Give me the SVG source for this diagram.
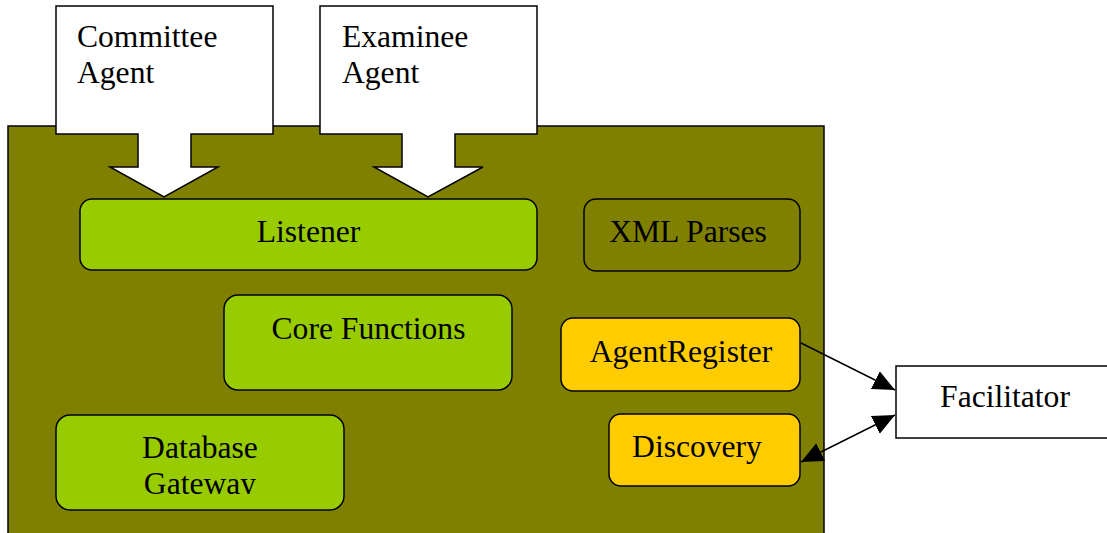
<svg xmlns="http://www.w3.org/2000/svg" width="1107" height="533" viewBox="0 0 1107 533">
<style>
text{font-family:"Liberation Serif","Times New Roman",serif;font-size:31.6px;fill:#000}
.box{stroke:#000;stroke-width:1.5}
.green{fill:#99CC00}
.gold{fill:#FFCC00}
.olive{fill:#808000}
.white{fill:#fff}
.conn{stroke:#000;stroke-width:1.5;fill:none}
</style>
<defs>
<marker id="ah" viewBox="0 0 20 20" refX="20" refY="10" markerWidth="22" markerHeight="22" markerUnits="userSpaceOnUse" orient="auto-start-reverse">
<path d="M0,1 L20,10 L0,19 Z" fill="#000"/>
</marker>
<clipPath id="dbclip"><rect x="56" y="415" width="290" height="79"/></clipPath>
</defs>
<rect width="1107" height="533" fill="#fff"/>
<g id="container">
<rect class="box olive" x="8" y="126" width="816" height="420"/>
</g>
<g id="committee">
<polygon class="box white" points="56,6 273,6 273,134 191,134 191,167 218,167 164,197 110,167 138,167 138,134 56,134"/>
<text x="77" y="47">Committee</text>
<text x="77" y="83">Agent</text>
</g>
<g id="examinee">
<polygon class="box white" points="320,6 537,6 537,134 455,134 455,167 483,167 428,197 374,167 402,167 402,134 320,134"/>
<text x="342" y="47">Examinee</text>
<text x="342" y="83">Agent</text>
</g>
<g id="listener">
<rect class="box green" x="80" y="199" width="457" height="71" rx="12"/>
<text x="308.5" y="242" text-anchor="middle">Listener</text>
</g>
<g id="xmlparses">
<rect class="box olive" x="584" y="199" width="216" height="72" rx="12"/>
<text x="688" y="242" text-anchor="middle">XML Parses</text>
</g>
<g id="corefunctions">
<rect class="box green" x="224" y="295" width="288" height="95" rx="14"/>
<text x="368.5" y="339" text-anchor="middle">Core Functions</text>
</g>
<g id="agentregister">
<rect class="box gold" x="561" y="318" width="239" height="73" rx="12"/>
<text x="681" y="362" text-anchor="middle">AgentRegister</text>
</g>
<g id="discovery">
<rect class="box gold" x="609" y="414" width="191" height="72" rx="12"/>
<text x="697" y="457" text-anchor="middle">Discovery</text>
</g>
<g id="databasegateway">
<rect class="box green" x="56" y="415" width="288" height="95" rx="14"/>
<g clip-path="url(#dbclip)">
<text x="200" y="458" text-anchor="middle">Database</text>
<text x="200" y="494" text-anchor="middle">Gateway</text>
</g>
</g>
<g id="facilitator">
<rect class="box white" x="896" y="366" width="215" height="72"/>
<text x="1005" y="407" text-anchor="middle">Facilitator</text>
</g>
<g id="connectors">
<line class="conn" x1="801" y1="343" x2="895" y2="390" marker-end="url(#ah)"/>
<line class="conn" x1="801" y1="462" x2="895" y2="415" marker-start="url(#ah)" marker-end="url(#ah)"/>
</g>
</svg>
